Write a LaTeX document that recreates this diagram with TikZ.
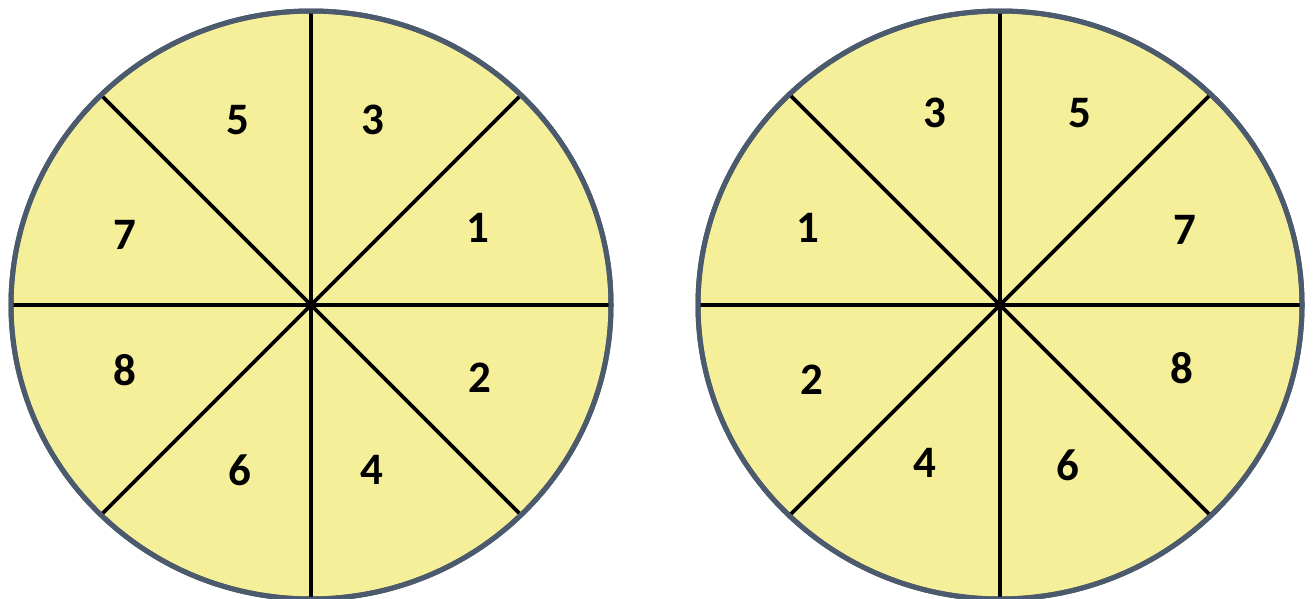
\documentclass[tikz,border=0pt]{standalone}
\usepackage{fontspec}
\setmainfont{Carlito}
\usepackage{tikz}
\usetikzlibrary{shapes.geometric}
\definecolor{amarelo}{HTML}{F4EF98}
\definecolor{contorno}{HTML}{4B5A6C}
\tikzset{
    disco/.style={
        ellipse,
        draw=contorno,
        line width=5pt,
        fill=amarelo,
        outer sep=0pt,
        inner sep=0pt
    },
    raio/.style={line width=3.6pt, black},
    setor/.style={font=\fontsize{45}{45}\selectfont\bfseries, inner sep=0pt}
}

\begin{document}
\begin{tikzpicture}[x=1pt, y=-1pt]
    \useasboundingbox (0,0) rectangle (1313,598);

    % disco da esquerda
    \node[disco, minimum width=600, minimum height=588] (discA) at (311,305) {};
    \draw[raio] (discA.center) -- (discA.90);
    \draw[raio] (discA.center) -- (discA.270);
    \draw[raio] (discA.center) -- (discA.0);
    \draw[raio] (discA.center) -- (discA.180);
    \draw[raio] (discA.center) -- (discA.45);
    \draw[raio] (discA.center) -- (discA.135);
    \draw[raio] (discA.center) -- (discA.225);
    \draw[raio] (discA.center) -- (discA.315);
    \node[disco, fill=none, minimum width=600, minimum height=588] (rimA) at (311,305) {};

    \node[setor] (a5) at (238,120) {5};
    \node[setor] (a3) at (373,120) {3};
    \node[setor] (a7) at (125,235) {7};
    \node[setor] (a1) at (478,228) {1};
    \node[setor] (a8) at (125,370) {8};
    \node[setor] (a2) at (480,378) {2};
    \node[setor] (a6) at (240,470) {6};
    \node[setor] (a4) at (372,470) {4};

    % disco da direita
    \node[disco, minimum width=604, minimum height=588] (discB) at (1000,305) {};
    \draw[raio] (discB.center) -- (discB.90);
    \draw[raio] (discB.center) -- (discB.270);
    \draw[raio] (discB.center) -- (discB.0);
    \draw[raio] (discB.center) -- (discB.180);
    \draw[raio] (discB.center) -- (discB.45);
    \draw[raio] (discB.center) -- (discB.135);
    \draw[raio] (discB.center) -- (discB.225);
    \draw[raio] (discB.center) -- (discB.315);
    \node[disco, fill=none, minimum width=604, minimum height=588] (rimB) at (1000,305) {};

    \node[setor] (b3) at (935,113) {3};
    \node[setor] (b5) at (1080,113) {5};
    \node[setor] (b1) at (808,228) {1};
    \node[setor] (b7) at (1185,230) {7};
    \node[setor] (b2) at (812,380) {2};
    \node[setor] (b8) at (1182,368) {8};
    \node[setor] (b4) at (925,463) {4};
    \node[setor] (b6) at (1068,465) {6};
\end{tikzpicture}
\end{document}
